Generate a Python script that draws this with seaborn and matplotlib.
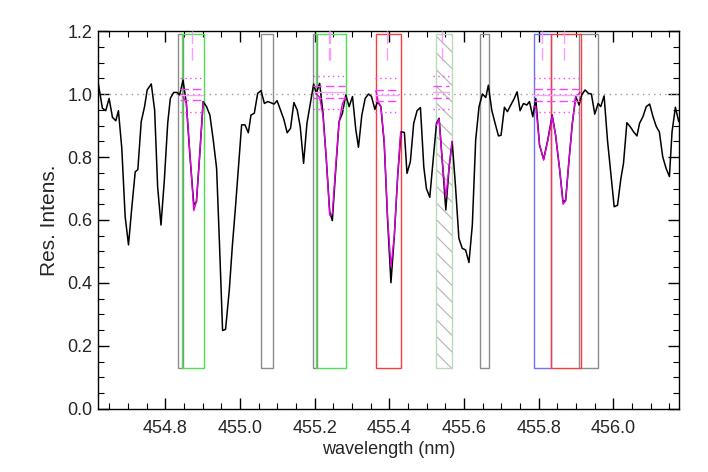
import matplotlib
matplotlib.use("Agg")
import matplotlib.pyplot as plt
import seaborn as sns
import pandas as pd
from matplotlib.patches import Rectangle
from matplotlib.ticker import MultipleLocator

# === Spectrum ===
wavelength = [
    454.620, 454.631, 454.640, 454.649, 454.658, 454.667, 454.674, 454.683, 454.692, 454.701,
    454.710, 454.719, 454.726, 454.735, 454.744, 454.751, 454.762, 454.771, 454.779, 454.788,
    454.797, 454.806, 454.813, 454.822, 454.831, 454.838, 454.847, 454.856, 454.865, 454.876,
    454.883, 454.892, 454.901, 454.910, 454.919, 454.928, 454.937, 454.945, 454.953, 454.961,
    454.971, 454.979, 454.988, 454.997, 455.004, 455.013, 455.022, 455.029, 455.038, 455.047,
    455.056, 455.065, 455.074, 455.083, 455.091, 455.099, 455.108, 455.117, 455.126, 455.135,
    455.144, 455.153, 455.161, 455.170, 455.179, 455.188, 455.197, 455.204, 455.213, 455.222,
    455.231, 455.240, 455.247, 455.256, 455.265, 455.274, 455.283, 455.292, 455.301, 455.310,
    455.317, 455.326, 455.335, 455.344, 455.352, 455.361, 455.368, 455.377, 455.386, 455.395,
    455.404, 455.413, 455.422, 455.431, 455.440, 455.447, 455.456, 455.465, 455.474, 455.483,
    455.492, 455.499, 455.508, 455.517, 455.526, 455.533, 455.542, 455.551, 455.560, 455.568,
    455.577, 455.586, 455.595, 455.604, 455.613, 455.622, 455.631, 455.640, 455.649, 455.658,
    455.665, 455.674, 455.683, 455.692, 455.699, 455.708, 455.716, 455.725, 455.734, 455.742,
    455.750, 455.759, 455.768, 455.775, 455.784, 455.792, 455.802, 455.813, 455.824, 455.836,
    455.845, 455.856, 455.865, 455.872, 455.881, 455.890, 455.899, 455.908, 455.915, 455.924,
    455.933, 455.941, 455.950, 455.959, 455.966, 455.975, 455.984, 455.993, 456.002, 456.011,
    456.020, 456.027, 456.036, 456.045, 456.054, 456.063, 456.070, 456.079, 456.088, 456.097,
    456.106, 456.115, 456.123, 456.132, 456.141, 456.150, 456.157, 456.166, 456.175,
]
intensity = [
    1.034, 0.955, 0.947, 0.986, 0.926, 0.915, 0.947, 0.828, 0.611, 0.521,
    0.642, 0.753, 0.760, 0.912, 0.960, 1.013, 1.032, 0.949, 0.706, 0.584,
    0.727, 0.907, 0.986, 1.005, 1.005, 0.997, 1.044, 0.970, 0.812, 0.648,
    0.658, 0.812, 0.976, 0.960, 0.933, 0.854, 0.764, 0.515, 0.249, 0.253,
    0.378, 0.515, 0.648, 0.790, 0.902, 0.902, 0.877, 0.933, 0.939, 1.002,
    1.011, 0.970, 0.976, 0.972, 0.968, 0.979, 0.949, 0.920, 0.877, 0.891,
    0.973, 0.949, 0.896, 0.780, 0.907, 0.970, 1.032, 1.002, 1.034, 0.939,
    0.790, 0.626, 0.598, 0.758, 0.912, 0.939, 0.997, 0.960, 0.992, 0.886,
    0.831, 0.933, 0.986, 1.000, 0.992, 0.951, 0.976, 0.960, 0.843, 0.600,
    0.401, 0.547, 0.738, 0.880, 0.878, 0.748, 0.785, 0.907, 0.947, 0.957,
    0.769, 0.700, 0.672, 0.790, 0.907, 0.923, 0.780, 0.632, 0.769, 0.849,
    0.706, 0.542, 0.510, 0.505, 0.465, 0.584, 0.854, 0.960, 1.000, 0.989,
    1.028, 0.949, 0.907, 0.867, 0.869, 0.958, 0.944, 0.965, 0.985, 1.007,
    0.947, 0.970, 0.965, 0.976, 0.928, 0.986, 0.838, 0.793, 0.854, 0.933,
    0.870, 0.759, 0.658, 0.663, 0.790, 0.907, 0.992, 0.965, 0.997, 1.013,
    1.002, 1.000, 0.936, 0.970, 0.960, 0.994, 0.854, 0.748, 0.642, 0.647,
    0.732, 0.780, 0.909, 0.896, 0.880, 0.867, 0.907, 0.928, 0.960, 0.968,
    0.928, 0.896, 0.880, 0.801, 0.764, 0.738, 0.880, 0.958, 0.912,
]

# === Line-fit profiles (magenta) ===
fit_wl = [
    [454.844, 454.856, 454.865, 454.876, 454.883, 454.892, 454.901],
    [455.204, 455.213, 455.222, 455.231, 455.240, 455.247, 455.256, 455.265, 455.274, 455.283],
    [455.364, 455.370, 455.377, 455.386, 455.395, 455.404, 455.413, 455.422, 455.430],
    [455.525, 455.533, 455.542, 455.551, 455.560, 455.568],
    [455.787, 455.792, 455.802, 455.813, 455.824, 455.836, 455.845, 455.856, 455.865,
     455.872, 455.881, 455.890, 455.899, 455.911],
]
fit_val = [
    [1.000, 0.970, 0.820, 0.630, 0.660, 0.810, 0.975],
    [1.000, 0.990, 0.930, 0.790, 0.615, 0.620, 0.770, 0.910, 0.970, 0.990],
    [1.010, 0.975, 0.960, 0.850, 0.610, 0.452, 0.550, 0.740, 0.880],
    [0.900, 0.920, 0.780, 0.672, 0.770, 0.850],
    [0.960, 0.960, 0.840, 0.790, 0.850, 0.930, 0.870, 0.760, 0.650,
     0.660, 0.790, 0.910, 0.990, 1.005],
]

# === Line windows: continuum levels ===
grp_lo = [454.840, 455.195, 455.360, 455.517, 455.786]
grp_hi = [454.901, 455.280, 455.422, 455.560, 455.911]
grp_dot_hi = [1.050, 1.058, 1.050, 1.058, 1.050]
grp_dot_lo = [0.944, 0.952, 0.944, 0.952, 0.944]
grp_dash_hi = [1.015, 1.025, 1.012, 1.025, 1.015]
grp_dash_lo = [0.981, 0.988, 0.978, 0.988, 0.978]
grp_mid = [0.998, 1.005, 0.998, 1.005, 0.998]
line_centres = [454.872, 455.239, 455.241, 455.394, 455.541, 455.809, 455.868]

# === Boxes (selection windows) ===
box_lo = [454.833, 455.055, 455.195, 455.643, 455.908,
          454.844, 455.204, 455.364, 455.525, 455.787, 455.834]
box_hi = [454.847, 455.087, 455.206, 455.667, 455.958,
          454.904, 455.283, 455.430, 455.568, 455.834, 455.913]
box_kind = ["gray", "gray", "gray", "gray", "gray",
            "green", "green", "red", "hatch", "blue", "red"]
BOX_BOTTOM, BOX_TOP = 0.13, 1.19

# === Plot ===
sns.set_style("ticks")
plt.rcParams["font.family"] = ["Liberation Sans", "DejaVu Sans"]
plt.rcParams["hatch.linewidth"] = 0.8

fig, ax = plt.subplots(figsize=(7.08, 4.72), dpi=100)
fig.subplots_adjust(left=0.1388, right=0.9587, bottom=0.1335, top=0.9343)

edge_colors = {"gray": "#8c8c8c", "green": "#50e050", "red": "#ff3a3a",
               "blue": "#7070ff", "hatch": "#b8dcb8"}
for lo, hi, kind in zip(box_lo, box_hi, box_kind):
    if kind == "hatch":
        # gray hatching inside, green outline on top
        ax.add_patch(Rectangle((lo, BOX_BOTTOM), hi - lo, BOX_TOP - BOX_BOTTOM,
                               fill=False, ec="#b4b4b4", lw=0, hatch="\\\\", zorder=2))
    ax.add_patch(Rectangle((lo, BOX_BOTTOM), hi - lo, BOX_TOP - BOX_BOTTOM,
                           fill=False, ec=edge_colors[kind], lw=1.0, zorder=2))

ax.axhline(1.0, color="#999999", ls=(0, (1, 3)), lw=1.0, zorder=1)

spec = pd.DataFrame({"wavelength": wavelength, "intensity": intensity})
sns.lineplot(data=spec, x="wavelength", y="intensity", color="black",
             lw=1.1, ax=ax, zorder=3)

for wl, val in zip(fit_wl, fit_val):
    ax.plot(wl, val, color="#e000e0", lw=1.0, zorder=4)

for i in range(len(grp_lo)):
    xs = [grp_lo[i], grp_hi[i]]
    for y in (grp_dot_hi[i], grp_dot_lo[i]):
        ax.plot(xs, [y, y], color="#ff40ff", ls=(0, (1, 2.5)), lw=1.0, zorder=4)
    for y in (grp_dash_hi[i], grp_dash_lo[i]):
        ax.plot(xs, [y, y], color="#ff40ff", ls=(0, (6, 3)), lw=1.0, zorder=4)
    ax.plot(xs, [grp_mid[i], grp_mid[i]], color="#ffa0ff", lw=1.0, zorder=4)

for c in line_centres:
    ax.plot([c, c], [1.2, 1.10], color="#ff99ff", ls=(0, (9, 3)), lw=1.0, zorder=4)

ax.set_xlim(454.62, 456.175)
ax.set_ylim(0.0, 1.2)
ax.xaxis.set_major_locator(MultipleLocator(0.2))
ax.xaxis.set_minor_locator(MultipleLocator(0.05))
ax.yaxis.set_major_locator(MultipleLocator(0.2))
ax.yaxis.set_minor_locator(MultipleLocator(0.05))
ax.xaxis.set_major_formatter(plt.FormatStrFormatter("%.1f"))
ax.yaxis.set_major_formatter(plt.FormatStrFormatter("%.1f"))
ax.tick_params(which="both", direction="in", top=True, right=True,
               color="black", labelsize=13)
ax.tick_params(axis="x", which="major", pad=8)
ax.tick_params(axis="y", which="major", pad=4)
ax.tick_params(which="major", length=8, width=1.0)
ax.tick_params(which="minor", length=4, width=0.8)
for s in ax.spines.values():
    s.set_color("black")
    s.set_linewidth(1.0)

ax.set_xlabel("wavelength (nm)", fontsize=13, labelpad=3)
ax.set_ylabel("Res. Intens.", fontsize=15, labelpad=6)

fig.savefig("out.png", dpi=100)
